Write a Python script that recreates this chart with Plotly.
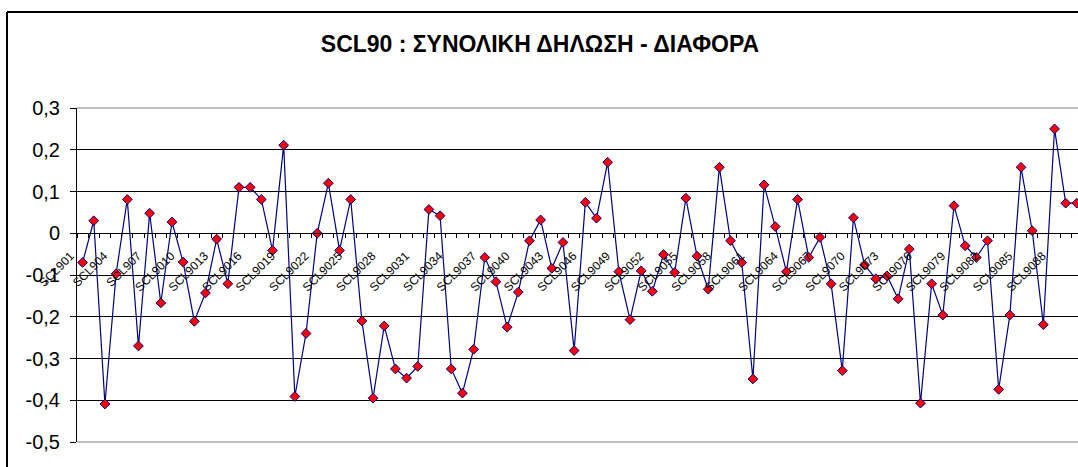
import plotly.graph_objects as go

title_text = "SCL90 : ΣΥΝΟΛΙΚΗ ΔΗΛΩΣΗ - ΔΙΑΦΟΡΑ"

categories = ["SCL90" + str(i) for i in range(1, 91)]

values = [
    -0.070, 0.030, -0.409, -0.097, 0.081, -0.270, 0.048, -0.167, 0.027, -0.069,
    -0.211, -0.143, -0.014, -0.121, 0.110, 0.110, 0.081, -0.041, 0.211, -0.391,
    -0.240, 0.000, 0.120, -0.041, 0.081, -0.210, -0.395, -0.222, -0.325, -0.347,
    -0.319, 0.057, 0.042, -0.325, -0.383, -0.278, -0.058, -0.116, -0.225, -0.141,
    -0.018, 0.032, -0.084, -0.022, -0.281, 0.074, 0.036, 0.170, -0.092, -0.207,
    -0.090, -0.139, -0.051, -0.094, 0.084, -0.055, -0.134, 0.158, -0.018, -0.070,
    -0.349, 0.116, 0.016, -0.092, 0.081, -0.058, -0.010, -0.121, -0.329, 0.037,
    -0.076, -0.109, -0.102, -0.157, -0.038, -0.407, -0.121, -0.196, 0.066, -0.030,
    -0.058, -0.018, -0.374, -0.196, 0.158, 0.006, -0.219, 0.250, 0.072, 0.072,
]

y_tickvals = [-0.5, -0.4, -0.3, -0.2, -0.1, 0.0, 0.1, 0.2, 0.3]
y_ticktext = ["-0,5", "-0,4", "-0,3", "-0,2", "-0,1", "0", "0,1", "0,2", "0,3"]

x_idx = list(range(len(categories)))
x_tickvals = x_idx[::3]
x_ticktext = categories[::3]

W, H = 1078, 467
# paper area starts at the outer chart border (x=7, y=12)
ML, MR, MT, MB = 7, 0, 12, 25
paper_w = W - ML - MR
paper_h = H - MT - MB
plot_left, plot_top, plot_bottom = 77, 108, 442
x_dom0 = (plot_left - ML) / paper_w
y_dom1 = (plot_bottom - plot_top) / paper_h
y_min, y_max = -0.5, 0.3
zero_pos = y_dom1 * (0.0 - y_min) / (y_max - y_min)  # paper y of value 0

FONT = "Arial, Liberation Sans, sans-serif"

fig = go.Figure()
fig.add_trace(go.Scatter(
    x=x_idx, y=values, mode="lines+markers",
    line=dict(color="#000080", width=1.2),
    marker=dict(symbol="diamond", size=7.5, color="#FF0000",
                line=dict(color="#000080", width=1)),
    showlegend=False, cliponaxis=False,
))

shapes = [
    # outer chart border (top and left edges visible)
    dict(type="line", xref="paper", yref="paper", x0=0, x1=1.05, y0=1, y1=1,
         line=dict(color="black", width=2), layer="above"),
    dict(type="line", xref="paper", yref="paper", x0=0, x1=0, y0=1, y1=-0.2,
         line=dict(color="black", width=2), layer="above"),
    # plot area top / bottom border (gray)
    dict(type="line", xref="paper", yref="paper", x0=x_dom0, x1=1, y0=y_dom1, y1=y_dom1,
         line=dict(color="#808080", width=1), layer="between"),
    dict(type="line", xref="paper", yref="paper", x0=x_dom0, x1=1, y0=0, y1=0,
         line=dict(color="#808080", width=1), layer="between"),
]

fig.update_layout(
    width=W, height=H,
    margin=dict(l=ML, r=MR, t=MT, b=MB, autoexpand=False),
    paper_bgcolor="white", plot_bgcolor="white",
    font=dict(family=FONT, color="black"),
    title=dict(text="<b>" + title_text + "</b>", x=540 / W, xref="container", xanchor="center",
               y=1 - 44 / H, yref="container", yanchor="middle",
               font=dict(size=23, family=FONT, color="black")),
    shapes=shapes,
    xaxis=dict(
        domain=[x_dom0, 1],
        range=[-0.5, 89.1], anchor="free", position=zero_pos,
        showgrid=False, zeroline=False,
        showline=True, linecolor="black", linewidth=1,
        tickmode="array", tickvals=x_tickvals, ticktext=x_ticktext,
        ticks="", tickangle=-45,
        ticklabelstandoff=10, ticklabelshift=-12,
        tickfont=dict(size=12, family=FONT, color="black"),
        minor=dict(tickmode="linear", tick0=-0.5, dtick=1, ticks="outside",
                   ticklen=4, tickcolor="black", tickwidth=1, showgrid=False),
    ),
    # helper axis whose line forms the top edge of the outer chart border
    xaxis2=dict(
        domain=[0, 1], overlaying="x", anchor="free", position=1, side="top",
        range=[0, 1], showline=True, linecolor="black", linewidth=2,
        showgrid=False, zeroline=False, showticklabels=False, ticks="",
    ),
    yaxis=dict(
        domain=[0, y_dom1],
        range=[y_min, y_max],
        tickmode="array", tickvals=y_tickvals, ticktext=y_ticktext,
        showgrid=True, gridcolor="black", gridwidth=1,
        zeroline=False,
        showline=True, linecolor="black", linewidth=1,
        ticks="outside", ticklen=6, tickcolor="black",
        ticklabelstandoff=6,
        tickfont=dict(size=20, family=FONT, color="black"),
    ),
)

fig.write_html(
    "out.html",
    config={"displayModeBar": False},
    post_script="document.body.style.margin='0';document.body.style.overflow='hidden';",
)
